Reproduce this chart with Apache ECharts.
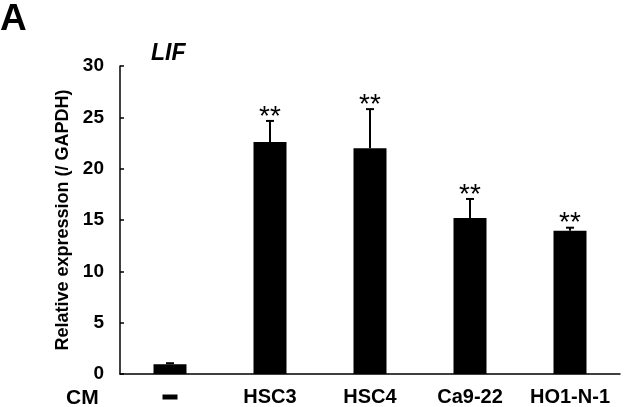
<!DOCTYPE html>
<html>
<head>
<meta charset="utf-8">
<script src="https://cdn.jsdelivr.net/npm/echarts@6/dist/echarts.min.js"></script>
<style>html,body{margin:0;padding:0;background:#fff;}#c{width:637px;height:407px;}</style>
</head>
<body>
<div id="c"></div>
<script>
var categories = ['-', 'HSC3', 'HSC4', 'Ca9-22', 'HO1-N-1'];
var values = [0.95, 22.6, 22.0, 15.2, 13.95];
var errors = [0.1, 2.05, 3.8, 1.85, 0.3];
var marks = ['', '**', '**', '**', '**'];
var yTicks = { min: 0, max: 30, interval: 5 };

var F = 'Liberation Sans, Arial, sans-serif';
var chart = echarts.init(document.getElementById('c'));
chart.setOption({
  backgroundColor: '#fff',
  animation: false,
  grid: { left: 120, right: 17, top: 66, bottom: 33 },
  graphic: [
    { type: 'text', left: 0, top: 1, style: { text: 'A', font: 'bold 37px ' + F, fill: '#000' } },
    { type: 'text', left: 151, top: 42, style: { text: 'LIF', font: 'italic bold 23px ' + F, fill: '#000' } },
    { type: 'text', left: 66, top: 388, style: { text: 'CM', font: 'bold 21px ' + F, fill: '#000' } }
  ],
  xAxis: {
    type: 'category',
    data: categories,
    axisLine: { lineStyle: { color: '#000', width: 1.5 } },
    axisTick: { inside: true, length: 4, lineStyle: { color: '#000', width: 1.5 } },
    axisLabel: {
      interval: 0,
      color: '#000', fontSize: 20, fontWeight: 'bold', fontFamily: F, margin: 13,
      formatter: function (v) { return v === '-' ? '{pad|}{dash|-}' : v; },
      rich: {
        pad: { lineHeight: 20, width: 0 },
        dash: { backgroundColor: '#000', color: '#000', width: 15, height: 5, fontSize: 5, lineHeight: 5, verticalAlign: 'middle' }
      }
    }
  },
  yAxis: {
    type: 'value',
    min: yTicks.min, max: yTicks.max, interval: yTicks.interval,
    name: 'Relative expression (/ GAPDH)',
    nameLocation: 'middle',
    nameGap: 39,
    nameTextStyle: { color: '#000', fontSize: 18, fontWeight: 'bold', fontFamily: F },
    axisLine: { show: true, lineStyle: { color: '#000', width: 1.5 } },
    axisTick: { show: true, inside: true, length: 4, lineStyle: { color: '#000', width: 1.5 } },
    splitLine: { show: false },
    axisLabel: { color: '#000', fontSize: 19, fontWeight: 'bold', fontFamily: F, margin: 16 }
  },
  series: [
    {
      type: 'bar',
      data: values,
      barWidth: '33%',
      itemStyle: { color: '#000' }
    },
    {
      type: 'custom',
      data: values.map(function (v, i) { return [i, v, errors[i]]; }),
      z: 5,
      renderItem: function (params, api) {
        var i = api.value(0), v = api.value(1), e = api.value(2);
        var base = api.coord([i, v]);
        var top = api.coord([i, v + e]);
        var cap = 4;
        var children = [
          { type: 'line', shape: { x1: base[0], y1: base[1], x2: top[0], y2: top[1] }, style: { stroke: '#000', lineWidth: 2 } },
          { type: 'line', shape: { x1: top[0] - cap, y1: top[1], x2: top[0] + cap, y2: top[1] }, style: { stroke: '#000', lineWidth: 2 } }
        ];
        var m = marks[params.dataIndex];
        if (m) {
          children.push({ type: 'text', style: { text: m, x: top[0], y: top[1] + 10, align: 'center', verticalAlign: 'bottom', font: '28px ' + F, fill: '#000' } });
        }
        return { type: 'group', children: children };
      }
    }
  ]
});
</script>
</body>
</html>
